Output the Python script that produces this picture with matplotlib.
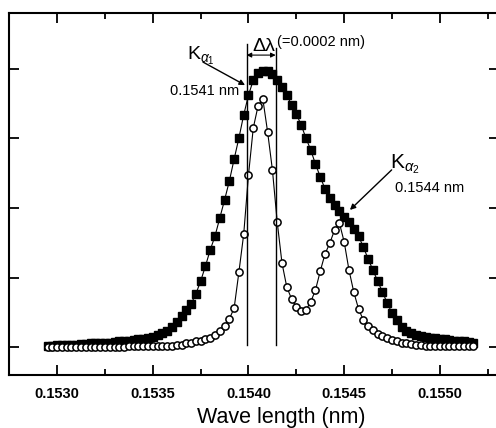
import matplotlib
matplotlib.use("Agg")
import matplotlib.pyplot as plt

plt.rcParams['font.family'] = ['Liberation Sans', 'DejaVu Sans']
plt.rcParams['mathtext.fontset'] = 'custom'
plt.rcParams['mathtext.rm'] = 'Liberation Sans'
plt.rcParams['mathtext.it'] = 'Liberation Sans:italic'

wavelength = [
    0.152950, 0.152975, 0.153000, 0.153025, 0.153050, 0.153075, 0.153100, 0.153125, 0.153150, 0.153175,
    0.153200, 0.153225, 0.153250, 0.153275, 0.153300, 0.153325, 0.153350, 0.153375, 0.153400, 0.153425,
    0.153450, 0.153475, 0.153500, 0.153525, 0.153550, 0.153575, 0.153600, 0.153625, 0.153650, 0.153675,
    0.153700, 0.153725, 0.153750, 0.153775, 0.153800, 0.153825, 0.153850, 0.153875, 0.153900, 0.153925,
    0.153950, 0.153975, 0.154000, 0.154025, 0.154050, 0.154075, 0.154100, 0.154125, 0.154150, 0.154175,
    0.154200, 0.154225, 0.154250, 0.154275, 0.154300, 0.154325, 0.154350, 0.154375, 0.154400, 0.154425,
    0.154450, 0.154475, 0.154500, 0.154525, 0.154550, 0.154575, 0.154600, 0.154625, 0.154650, 0.154675,
    0.154700, 0.154725, 0.154750, 0.154775, 0.154800, 0.154825, 0.154850, 0.154875, 0.154900, 0.154925,
    0.154950, 0.154975, 0.155000, 0.155025, 0.155050, 0.155075, 0.155100, 0.155125, 0.155150, 0.155175,
]

broad_intensity = [
    0.005, 0.005, 0.007, 0.007, 0.007, 0.009, 0.009, 0.011, 0.011, 0.013,
    0.013, 0.014, 0.014, 0.016, 0.018, 0.020, 0.022, 0.023, 0.025, 0.027,
    0.029, 0.032, 0.036, 0.043, 0.050, 0.058, 0.072, 0.090, 0.112, 0.133,
    0.155, 0.191, 0.237, 0.291, 0.349, 0.399, 0.464, 0.529, 0.597, 0.676,
    0.752, 0.835, 0.906, 0.960, 0.986, 0.993, 0.993, 0.982, 0.960, 0.935,
    0.906, 0.871, 0.838, 0.799, 0.752, 0.709, 0.658, 0.612, 0.568, 0.536,
    0.511, 0.489, 0.468, 0.450, 0.424, 0.399, 0.360, 0.317, 0.277, 0.237,
    0.198, 0.158, 0.122, 0.097, 0.072, 0.058, 0.050, 0.043, 0.040, 0.036,
    0.032, 0.031, 0.029, 0.027, 0.025, 0.023, 0.022, 0.020, 0.018, 0.016,
]

resolved_intensity = [
    0.000, 0.000, 0.000, 0.000, 0.000, 0.000, 0.000, 0.000, 0.000, 0.000,
    0.000, 0.001, 0.001, 0.001, 0.001, 0.001, 0.001, 0.002, 0.002, 0.002,
    0.002, 0.002, 0.003, 0.004, 0.004, 0.005, 0.005, 0.007, 0.009, 0.013,
    0.016, 0.020, 0.023, 0.029, 0.032, 0.043, 0.058, 0.076, 0.101, 0.140,
    0.270, 0.406, 0.619, 0.788, 0.867, 0.892, 0.773, 0.637, 0.450, 0.302,
    0.216, 0.173, 0.144, 0.129, 0.133, 0.162, 0.205, 0.273, 0.335, 0.374,
    0.421, 0.446, 0.378, 0.277, 0.198, 0.137, 0.097, 0.076, 0.061, 0.047,
    0.040, 0.031, 0.025, 0.020, 0.016, 0.013, 0.011, 0.009, 0.007, 0.005,
    0.005, 0.005, 0.005, 0.005, 0.004, 0.004, 0.004, 0.004, 0.004, 0.004,
]

x_major = [0.1530, 0.1535, 0.1540, 0.1545, 0.1550]
x_labels = ["0.1530", "0.1535", "0.1540", "0.1545", "0.1550"]
y_major = [0.0, 0.25, 0.5, 0.75, 1.0]

line_left = 0.153990
line_right = 0.154142

fig = plt.figure(figsize=(4.96, 4.28), dpi=100)
# right spine sits just outside the canvas, as in the reference
ax = fig.add_axes([9/496, 53/428, 490/496, 362/428])

ax.plot(wavelength, broad_intensity, '-', color='black', lw=0.8,
        marker='s', ms=5.6, mfc='black', mec='black', zorder=3)
ax.plot(wavelength, resolved_intensity, '-', color='black', lw=0.8,
        marker='o', ms=5.2, mfc='white', mec='black', mew=1.1, zorder=4)

ax.set_xlim(0.1527486, 0.1552985 + 2/191380)
ax.set_ylim(-0.1007, 1.2014)

ax.set_xticks(x_major)
ax.set_xticklabels(x_labels, fontsize=10.5, fontweight='bold')
ax.set_xticks([0.15275, 0.15325, 0.15375, 0.15425, 0.15475, 0.15525], minor=True)
ax.set_yticks(y_major)
ax.set_yticklabels([])
ax.tick_params(which='major', direction='in', length=7, width=1.3, top=True, right=True, pad=9)
ax.tick_params(which='minor', direction='in', length=4, width=1.3, top=True, right=False)
for s in ax.spines.values():
    s.set_linewidth(1.5)

# vertical lines marking the two Ka1 positions
ax.plot([line_left, line_left], [0.007, 1.090], color='black', lw=1.0, zorder=5)
ax.plot([line_right, line_right], [0.007, 1.076], color='black', lw=1.0, zorder=5)
ax.annotate('', xy=(line_left, 1.050), xytext=(line_right, 1.050),
            arrowprops=dict(arrowstyle='<|-|>', color='black', lw=0.8,
                            mutation_scale=7, shrinkA=0, shrinkB=0))
ax.text(0.154018, 1.066, 'Δλ', fontsize=14, ha='left', va='baseline')
ax.text(0.154149, 1.083, '(=0.0002 nm)', fontsize=10.5, ha='left', va='baseline')

# K alpha 1
ax.text(0.153679, 1.032, r'K$_{\alpha_1}$', fontsize=14, ha='left', va='baseline')
ax.annotate('', xy=(0.153982, 0.942), xytext=(0.153762, 1.025),
            arrowprops=dict(arrowstyle='-|>', color='black', lw=1.0,
                            mutation_scale=8, shrinkA=0, shrinkB=0))
ax.text(0.153590, 0.906, '0.1541 nm', fontsize=10.5, ha='left', va='baseline')

# K alpha 2
ax.text(0.154739, 0.644, r'K$_{\alpha_2}$', fontsize=15, ha='left', va='baseline')
ax.annotate('', xy=(0.154530, 0.493), xytext=(0.154748, 0.637),
            arrowprops=dict(arrowstyle='-|>', color='black', lw=1.0,
                            mutation_scale=8, shrinkA=0, shrinkB=0))
ax.text(0.154765, 0.558, '0.1544 nm', fontsize=10.5, ha='left', va='baseline')

fig.text(281.5/496, 1 - 423/428, 'Wave length (nm)', fontsize=15.5, ha='center', va='baseline')

fig.savefig('out.png', dpi=100)
